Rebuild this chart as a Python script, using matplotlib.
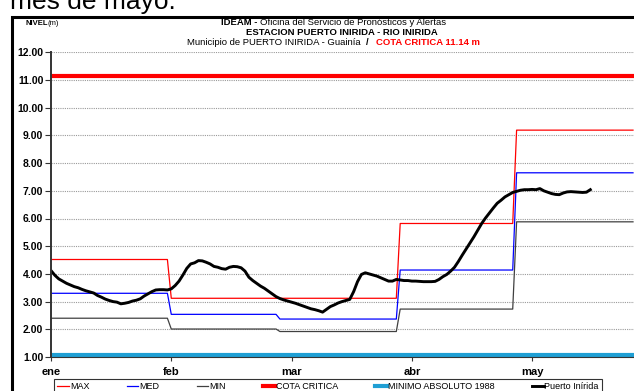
import numpy as np
import matplotlib
matplotlib.use('Agg')
from matplotlib import pyplot as plt
from matplotlib.patches import Rectangle

plt.rcParams['font.family'] = ['Liberation Sans', 'DejaVu Sans']

# Datos mensuales historicos (m)
meses = ['ene', 'feb', 'mar', 'abr', 'may']
dias_mes = [31, 28, 31, 30, 31]
nivel_max = [4.52, 3.12, 3.12, 5.82, 9.19]
nivel_med = [3.30, 2.54, 2.37, 4.14, 7.65]
nivel_min = [2.40, 2.01, 1.92, 2.73, 5.88]
cota_critica = 11.14
minimo_absoluto = 1.08

# Niveles diarios observados, Puerto Inirida (1 ene - 20 may)
puerto_inirida = [
    4.12, 3.95, 3.82, 3.74, 3.66, 3.60, 3.54, 3.50, 3.44, 3.39,
    3.35, 3.31, 3.22, 3.16, 3.09, 3.04, 3.00, 2.98, 2.92, 2.94,
    2.97, 3.02, 3.05, 3.10, 3.20, 3.28, 3.36, 3.42, 3.43, 3.43,
    3.42, 3.46, 3.58, 3.74, 3.96, 4.20, 4.36, 4.40, 4.48, 4.47,
    4.42, 4.36, 4.27, 4.24, 4.19, 4.17, 4.24, 4.27, 4.26, 4.22,
    4.10, 3.88, 3.76, 3.66, 3.56, 3.48, 3.38, 3.28, 3.18, 3.11,
    3.06, 3.02, 2.98, 2.94, 2.89, 2.84, 2.79, 2.74, 2.71, 2.67,
    2.62, 2.72, 2.82, 2.88, 2.95, 3.00, 3.04, 3.08, 3.36, 3.72,
    3.98, 4.04, 4.00, 3.96, 3.92, 3.86, 3.80, 3.74, 3.74, 3.80,
    3.78, 3.76, 3.76, 3.74, 3.74, 3.73, 3.72, 3.72, 3.72, 3.73,
    3.80, 3.90, 3.98, 4.10, 4.24, 4.45, 4.68, 4.90, 5.12, 5.34,
    5.58, 5.82, 6.02, 6.20, 6.38, 6.55, 6.66, 6.78, 6.86, 6.94,
    6.98, 7.02, 7.04, 7.04, 7.05, 7.04, 7.08, 7.00, 6.95, 6.90,
    6.87, 6.86, 6.92, 6.96, 6.97, 6.96, 6.95, 6.94, 6.95, 7.04,
]

W, H = 634, 391
fig = plt.figure(figsize=(W / 100, H / 100), dpi=100)

# texto del documento cortado arriba
fig.text(10 / W, 1 - 9.5 / H, 'mes de mayo.', fontsize=19, va='baseline', ha='left')

# marco negro del grafico
fig.add_artist(Rectangle((11.5 / W, -0.2), 1.2, 1.2 - 16.5 / H, transform=fig.transFigure,
                         fill=False, edgecolor='black', linewidth=2.2))

ax = fig.add_axes([51 / W, 1 - 357 / H, (W - 51) / W, (357 - 52.3) / H])

dias = np.arange(sum(dias_mes))
serie_max = np.repeat(nivel_max, dias_mes)
serie_med = np.repeat(nivel_med, dias_mes)
serie_min = np.repeat(nivel_min, dias_mes)

ax.plot(dias, serie_max, color='#ff0000', lw=0.9, label='MAX')
ax.plot(dias, serie_med, color='#0000ff', lw=0.9, label='MED')
ax.plot(dias, serie_min, color='#404040', lw=0.9, label='MIN')
ax.axhline(cota_critica, color='#ff0000', lw=3, label='COTA CRITICA')
ax.axhline(minimo_absoluto, color='#1f9fd4', lw=3, label='MINIMO ABSOLUTO 1988')
ax.plot(np.arange(len(puerto_inirida)), puerto_inirida, color='black', lw=2.1,
        label='Puerto Inírida')

ax.set_xlim(0, (W - 51) / 3.88)
ax.set_ylim(1, 12)
ax.set_yticks(np.arange(1, 13))
ax.set_yticklabels(['%.2f' % v for v in np.arange(1, 13)], fontsize=7.5, fontweight='bold')
ax.set_xticks([0, 31, 62, 93, 124])
ax.set_xticklabels(meses, fontsize=8, fontweight='bold')
ax.tick_params(axis='y', direction='out', length=4, width=0.8, pad=1.5, color='#333333')
ax.tick_params(axis='x', direction='out', length=3, width=0.8, pad=4, color='#333333')

ax.grid(axis='y', color='#9a9a9a', linestyle=(0, (1, 1)), linewidth=0.8)
ax.set_axisbelow(True)
for lado in ['top', 'right']:
    ax.spines[lado].set_visible(False)
ax.spines['left'].set_color('#333333')
ax.spines['left'].set_linewidth(1.4)
ax.spines['bottom'].set_color('#333333')
ax.spines['bottom'].set_linewidth(0.8)

# titulos
fig.text(25 / W, 1 - 23.5 / H, 'NIVEL', fontsize=5.5, fontweight='bold', va='center')
fig.text(47.5 / W, 1 - 23.5 / H, '(m)', fontsize=5.5, va='center')

fs = 6.8
t1 = fig.text(221 / W, 1 - 22.5 / H, 'IDEAM - ', fontsize=fs, fontweight='bold', va='center')
ax.annotate('Oficina del Servicio de Pronósticos y Alertas', xy=(1, 0.5), xycoords=t1,
            va='center', fontsize=fs)
fig.text(342 / W, 1 - 32.5 / H, 'ESTACION PUERTO INIRIDA - RIO INIRIDA', fontsize=fs,
         fontweight='bold', ha='center', va='center')
t3 = fig.text(187 / W, 1 - 42.5 / H, 'Municipio de PUERTO INIRIDA - Guainía  ', fontsize=fs,
              va='center')
t4 = ax.annotate('/   ', xy=(1, 0.5), xycoords=t3, va='center', fontsize=fs, fontweight='bold')
ax.annotate('COTA CRITICA 11.14 m', xy=(1, 0.5), xycoords=t4, va='center', fontsize=fs,
            fontweight='bold', color='#ff0000')

# leyenda
handles, labels = ax.get_legend_handles_labels()
leg = fig.legend(handles, labels, loc='upper left', ncol=6, mode='expand',
                 bbox_to_anchor=(54 / W, 1 - 379 / H, (602 - 54) / W, 0),
                 borderaxespad=0, borderpad=0.35, handlelength=1.3, handletextpad=0.1,
                 fancybox=False, framealpha=1, edgecolor='#333333',
                 prop={'family': ['Liberation Sans Narrow', 'Liberation Sans'], 'size': 6.5})
leg.get_frame().set_linewidth(0.8)

fig.savefig('out.png', dpi=100)
